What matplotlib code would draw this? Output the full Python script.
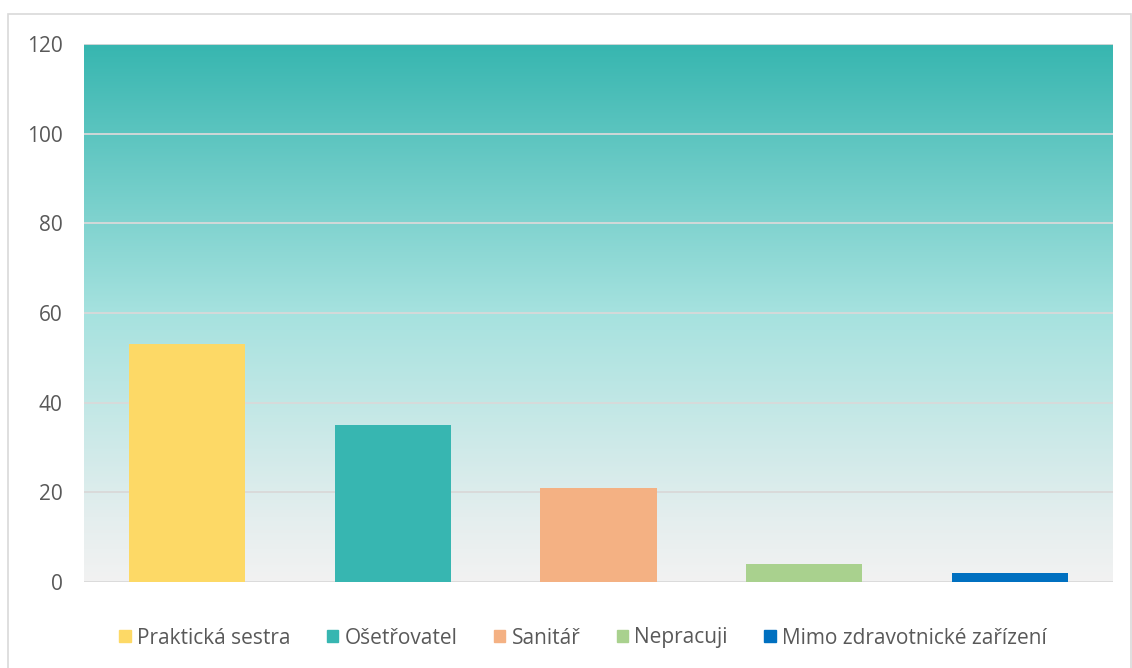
import matplotlib
matplotlib.use("Agg")
import matplotlib.pyplot as plt
import numpy as np
from matplotlib.colors import LinearSegmentedColormap
from matplotlib.patches import Rectangle

categories = ["Praktická sestra", "Ošetřovatel", "Sanitář", "Nepracuji", "Mimo zdravotnické zařízení"]
values = [53, 35, 21, 4, 2]
colors = ["#FDD966", "#37B6B1", "#F4B183", "#A9D18E", "#0070C0"]
yticks = [0, 20, 40, 60, 80, 100, 120]

plt.rcParams['font.family'] = ['Open Sans', 'DejaVu Sans']

W, H = 1132, 668
fig = plt.figure(figsize=(W / 100, H / 100), dpi=100)
fig.patch.set_facecolor("white")

# outer border
fig.patches.append(Rectangle((8 / W, -0.01), (1131 - 8) / W, 1 - 14 / H + 0.01,
                             transform=fig.transFigure, fill=False,
                             edgecolor="#D9D9D9", linewidth=1.2))

ax = fig.add_axes([84 / W, (H - 582) / H, (1113 - 84) / W, (582 - 44) / H])

x = np.arange(len(categories))
ax.set_xlim(-0.5, len(categories) - 0.5)
ax.set_ylim(0, 120)

# gradient background
cmap = LinearSegmentedColormap.from_list("bg", [(0, "#F2F2F2"), (0.12, "#E4EEEE"),
                                                (0.5, "#A6E2DF"), (1.0, "#37B6B0")])
grad = np.linspace(0, 1, 256).reshape(-1, 1)
ax.imshow(grad, aspect="auto", cmap=cmap, origin="lower",
          extent=(-0.5, len(categories) - 0.5, 0, 120), zorder=0)

for yv in yticks:
    ax.axhline(yv, color="#D9D9D9", linewidth=1.3, zorder=1)

bars = ax.bar(x, values, width=0.565, color=colors, zorder=3)

for s in ax.spines.values():
    s.set_visible(False)
ax.set_xticks([])
ax.set_yticks(yticks)
ax.set_yticklabels([str(v) for v in yticks])
ax.tick_params(axis="y", length=0, pad=15.5, labelsize=15, labelcolor="#595959")

handles = [Rectangle((0, 0), 1, 1, color=c) for c in colors]
leg = fig.legend(handles, categories, loc="center", bbox_to_anchor=(0.515, (H - 638) / H),
                 ncol=5, frameon=False, fontsize=15, handlelength=0.55, handleheight=0.55,
                 handletextpad=0.3, columnspacing=1.75)
for t in leg.get_texts():
    t.set_color("#595959")

fig.savefig("out.png", dpi=100, facecolor="white")
